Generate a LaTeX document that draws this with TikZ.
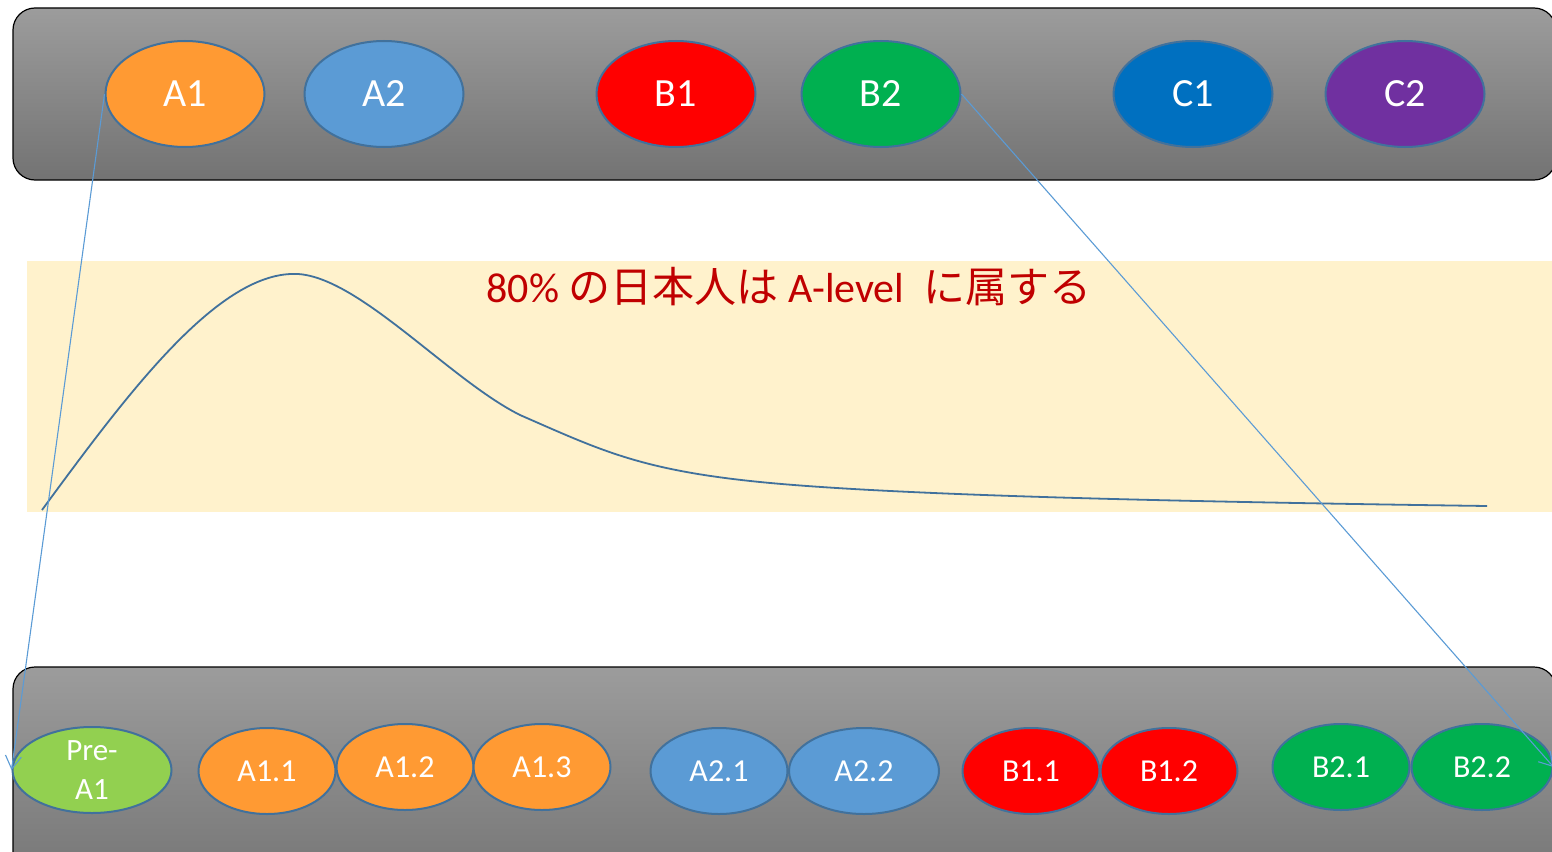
\documentclass[tikz,border=0pt]{standalone}
\usepackage{fontspec}
\setmainfont{Carlito}
\newfontfamily\jp{Noto Sans CJK JP}
\usetikzlibrary{shapes.geometric,arrows.meta}
\definecolor{barTop}{HTML}{9C9C9C}
\definecolor{barBot}{HTML}{737373}
\definecolor{band}{HTML}{FFF2CC}
\definecolor{edge}{HTML}{41719C}
\definecolor{conn}{HTML}{5B9BD5}
\definecolor{cA}{HTML}{FF9A33}
\definecolor{cAb}{HTML}{5B9BD5}
\definecolor{cB}{HTML}{FF0000}
\definecolor{cBb}{HTML}{00B050}
\definecolor{cC}{HTML}{0070C0}
\definecolor{cCb}{HTML}{7030A0}
\definecolor{cPre}{HTML}{92D050}
\definecolor{txtred}{HTML}{C00000}
\tikzset{
  bar/.style={draw=black,line width=1.2pt,rounded corners=22pt,top color=barTop,bottom color=barBot},
  big/.style={ellipse,draw=edge,line width=2pt,minimum width=159pt,minimum height=106pt,inner sep=0pt,text=white,font=\fontsize{40}{44}\selectfont},
  small/.style={ellipse,draw=edge,line width=2pt,minimum width=137pt,minimum height=86pt,inner sep=0pt,text=white,font=\fontsize{32}{38}\selectfont},
  conn/.style={draw=conn,line width=1.1pt,-{Straight Barb[length=13pt,width=16pt,line width=1.1pt]}}
}
\begin{document}
\begin{tikzpicture}[x=1pt,y=-1pt]
\useasboundingbox (0,0) rectangle (1552,851);
\clip (0,0) rectangle (1552,851);
% bars
\path[bar] (13,8) rectangle (1556,180);
\path[bar] (13,667) rectangle (1556,900);
% band
\fill[band] (27,261) rectangle (1552,512);
% curve
\draw[edge,line width=1.8pt] (42,510) .. controls (130,390) and (220,270) .. (298,274)
  .. controls (360,278) and (450,380) .. (520,415)
  .. controls (600,450) and (640,470) .. (760,482)
  .. controls (900,496) and (1200,502) .. (1487,506);
\node[text=txtred,font=\fontsize{42}{48}\selectfont] (title) at (789,287) {80\% {\jp の日本人は} A-level\ \ {\jp に属する}};
% top ellipses
\node[big,fill=cA] (A1) at (185,94) {A1};
\node[big,fill=cAb] (A2) at (384,94) {A2};
\node[big,fill=cB] (B1) at (676,94) {B1};
\node[big,fill=cBb] (B2) at (881,94) {B2};
\node[big,fill=cC] (C1) at (1193,94) {C1};
\node[big,fill=cCb] (C2) at (1405,94) {C2};
% bottom ellipses
\node[small,fill=cPre,minimum width=159pt,align=center,font=\fontsize{31}{39}\selectfont] (PA1) at (92,770) {Pre-\\A1};
\node[small,fill=cA] (A11) at (267,771) {A1.1};
\node[small,fill=cA] (A12) at (405,767) {A1.2};
\node[small,fill=cA] (A13) at (542,767) {A1.3};
\node[small,fill=cAb] (A21) at (719,771) {A2.1};
\node[small,fill=cAb,minimum width=150pt] (A22) at (864,771) {A2.2};
\node[small,fill=cB] (B11) at (1031,771) {B1.1};
\node[small,fill=cB] (B12) at (1169,771) {B1.2};
\node[small,fill=cBb] (B21) at (1341,767) {B2.1};
\node[small,fill=cBb,minimum width=141pt] (B22) at (1482,767) {B2.2};
% connectors
\draw[conn] (A1.west) -- (PA1.west);
\draw[conn] (B2.east) -- (B22.east);
\end{tikzpicture}
\end{document}
